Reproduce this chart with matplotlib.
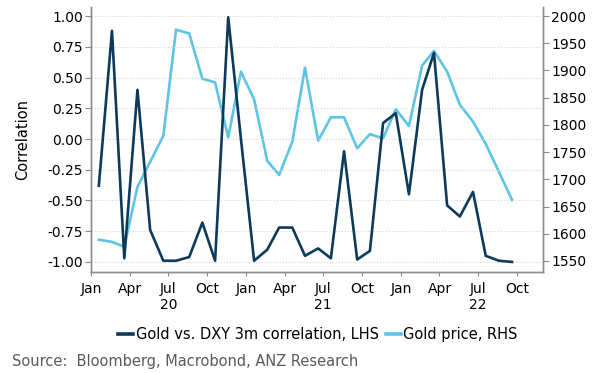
import numpy as np
import pandas as pd
import matplotlib
matplotlib.use('Agg')
import matplotlib.pyplot as plt
import matplotlib.dates as mdates

# monthly observations, Jan 2020 - Sep 2022
dates = pd.date_range('2020-01-01', periods=33, freq='MS') + pd.Timedelta(days=18)

corr = [-0.38, 0.88, -0.97, 0.40, -0.74, -0.99, -0.99, -0.96, -0.68, -0.99,
        0.99, 0.00, -0.99, -0.90, -0.72, -0.72, -0.95, -0.89, -0.97, -0.10,
        -0.98, -0.91, 0.13, 0.21, -0.45, 0.40, 0.70, -0.54, -0.63, -0.43,
        -0.95, -0.99, -1.00]
gold = [1589, 1585, 1576, 1686, 1732, 1780, 1975, 1968, 1885, 1878,
        1777, 1898, 1847, 1734, 1708, 1769, 1905, 1771, 1814, 1814,
        1757, 1783, 1775, 1829, 1798, 1909, 1936, 1898, 1837, 1806,
        1765, 1714, 1662]

corr_ticks = [-1.0, -0.75, -0.5, -0.25, 0.0, 0.25, 0.5, 0.75, 1.0]
gold_ticks = [1550, 1600, 1650, 1700, 1750, 1800, 1850, 1900, 1950, 2000]

dark = '#0b3a5a'
light = '#5ec4e6'
spine_col = '#8c8c8c'

plt.rcParams['font.family'] = 'DejaVu Sans'
plt.rcParams['font.size'] = 10

fig = plt.figure(figsize=(6, 3.73), dpi=100)
ax = fig.add_axes([0.152, 0.271, 0.753, 0.710])
ax2 = ax.twinx()

l1, = ax.plot(dates, corr, color=dark, lw=1.9, label='Gold vs. DXY 3m correlation, LHS', zorder=3)
l2, = ax2.plot(dates, gold, color=light, lw=1.9, label='Gold price, RHS', zorder=2)
ax.set_zorder(ax2.get_zorder() + 1)
ax.patch.set_visible(False)

ax.set_ylim(-1.081, 1.073)
ax2.set_ylim(1529.8, 2016.5)
ax.set_yticks(corr_ticks)
ax.set_yticklabels([f'{t:.2f}' for t in corr_ticks])
ax2.set_yticks(gold_ticks)
ax.set_xlim(pd.Timestamp('2020-01-01'), pd.Timestamp('2022-12-01'))

ax.grid(axis='y', color='#d4d4d4', linestyle=':', linewidth=0.8)

ax.xaxis.set_major_locator(mdates.MonthLocator(bymonth=[1, 4, 7, 10]))
ax.xaxis.set_minor_locator(mdates.MonthLocator(bymonth=[1]))


def fmt(x, pos=None):
    d = mdates.num2date(x)
    s = d.strftime('%b')
    if d.month == 7:
        s += '\n' + d.strftime('%y')
    return s


ax.xaxis.set_major_formatter(plt.FuncFormatter(fmt))
ax.tick_params(axis='x', which='major', length=3, color=spine_col, labelsize=10, pad=4)
ax.tick_params(axis='x', which='minor', length=6, color=spine_col)
ax.tick_params(axis='y', length=4, color=spine_col, labelsize=10, pad=2)
ax2.tick_params(axis='y', length=4, color=spine_col, labelsize=10, pad=2)

for a in (ax, ax2):
    a.spines['top'].set_visible(False)
    for s in ('left', 'right', 'bottom'):
        a.spines[s].set_color(spine_col)
        a.spines[s].set_linewidth(1.0)

ax.set_ylabel('Correlation', fontsize=10.5, labelpad=12)

leg = fig.legend(handles=[l1, l2], loc='center', bbox_to_anchor=(0.53, 0.102), ncol=2,
                 frameon=False, handlelength=1.0, handletextpad=0.2, columnspacing=0.5,
                 fontsize=10.5)
for h in leg.get_lines():
    h.set_linewidth(2.6)
fig.text(0.02, 0.03, 'Source:  Bloomberg, Macrobond, ANZ Research', color='#5a5a5a',
         fontsize=10.5, va='center', ha='left')

fig.savefig('out.png', dpi=100)
